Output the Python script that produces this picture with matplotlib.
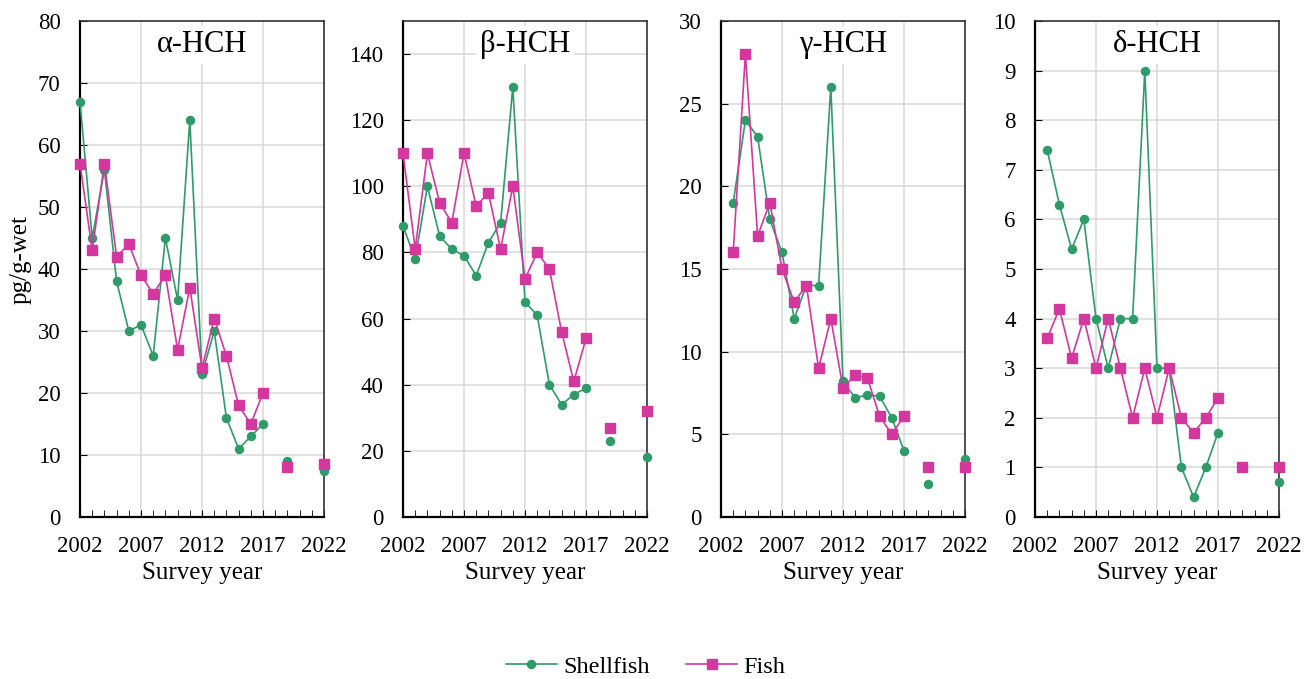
import numpy as np
import matplotlib.pyplot as plt
from matplotlib.ticker import MultipleLocator

plt.rcParams['font.family'] = ['Liberation Serif', 'DejaVu Serif']

nan = np.nan
years = list(range(2002, 2023))

# values per survey year 2002..2022 (nan = no survey)
alpha_shell = [67, 45, 56, 38, 30, 31, 26, 45, 35, 64, 23, 30, 16, 11, 13, 15, nan, 9, nan, nan, 7.4]
alpha_fish = [57, 43, 57, 42, 44, 39, 36, 39, 27, 37, 24, 32, 26, 18, 15, 20, nan, 8.1, nan, nan, 8.6]
beta_shell = [88, 78, 100, 85, 81, 79, 73, 83, 89, 130, 65, 61, 40, 34, 37, 39, nan, 23, nan, nan, 18]
beta_fish = [110, 81, 110, 95, 89, 110, 94, 98, 81, 100, 72, 80, 75, 56, 41, 54, nan, 27, nan, nan, 32]
gamma_shell = [nan, 19, 24, 23, 18, 16, 12, 14, 14, 26, 8.2, 7.2, 7.4, 7.3, 6.0, 4.0, nan, 2.0, nan, nan, 3.5]
gamma_fish = [nan, 16, 28, 17, 19, 15, 13, 14, 9, 12, 7.8, 8.6, 8.4, 6.1, 5.0, 6.1, nan, 3.0, nan, nan, 3.0]
delta_shell = [nan, 7.4, 6.3, 5.4, 6.0, 4.0, 3.0, 4.0, 4.0, 9.0, 3.0, 3.0, 1.0, 0.4, 1.0, 1.7, nan, nan, nan, nan, 0.7]
delta_fish = [nan, 3.6, 4.2, 3.2, 4.0, 3.0, 4.0, 3.0, 2.0, 3.0, 2.0, 3.0, 2.0, 1.7, 2.0, 2.4, nan, 1.0, nan, nan, 1.0]

titles = ["α-HCH", "β-HCH", "γ-HCH", "δ-HCH"]
shell_series = [alpha_shell, beta_shell, gamma_shell, delta_shell]
fish_series = [alpha_fish, beta_fish, gamma_fish, delta_fish]
ylims = [(0, 80), (0, 150), (0, 30), (0, 10)]
ysteps = [10, 20, 5, 1]
ymax_tick = [80, 140, 30, 10]

GREEN = "#2e9b68"
MAGENTA = "#d4379e"

W, H = 1304, 679
fig = plt.figure(figsize=(W / 100, H / 100), dpi=100)

lefts = [80, 403, 721, 1035]
top, bottom, width = 21, 517, 244

for i in range(4):
    ax = fig.add_axes([lefts[i] / W, (H - bottom) / H, width / W, (bottom - top) / H])
    ax.plot(years, shell_series[i], color=GREEN, lw=1.2, marker="o", ms=5.8,
            label="Shellfish", clip_on=False, zorder=3)
    ax.plot(years, fish_series[i], color=MAGENTA, lw=1.2, marker="s", ms=6.5,
            label="Fish", clip_on=False, zorder=4)
    ax.set_xlim(2002, 2022)
    ax.set_ylim(*ylims[i])
    ax.set_xticks([2002, 2007, 2012, 2017, 2022])
    ax.xaxis.set_minor_locator(MultipleLocator(1))
    ax.set_yticks(np.arange(0, ymax_tick[i] + 0.01, ysteps[i]))
    ax.grid(True, color="#d9d9d9", lw=1.1, zorder=0)
    ax.set_axisbelow(True)
    ax.tick_params(axis="both", which="both", direction="in", labelsize=16.5)
    ax.tick_params(axis="x", which="major", length=5, pad=14)
    ax.tick_params(axis="x", which="minor", length=5)
    ax.tick_params(axis="y", length=5, pad=14)
    for s in ["left", "bottom"]:
        ax.spines[s].set_linewidth(1.6)
        ax.spines[s].set_color("black")
    for s in ["top", "right"]:
        ax.spines[s].set_linewidth(1.2)
        ax.spines[s].set_color("#333333")
    ax.text(0.5, 0.952, titles[i], transform=ax.transAxes, ha="center", va="center",
            fontsize=22, bbox=dict(facecolor="white", edgecolor="none", pad=3), zorder=5)
    ax.set_xlabel("Survey year", fontsize=18)
    ax.xaxis.set_label_coords(0.5, -0.091)
    if i == 0:
        ax.set_ylabel("pg/g-wet", fontsize=18)
        ax.yaxis.set_label_coords(-0.20, 0.52)
        handles, labels = ax.get_legend_handles_labels()

fig.legend(handles, labels, loc="center", bbox_to_anchor=(0.495, 0.018), ncol=2,
           frameon=False, fontsize=17.5, handlelength=2.1, columnspacing=1.5,
           handletextpad=0.25)

fig.savefig("out.png", dpi=100)
